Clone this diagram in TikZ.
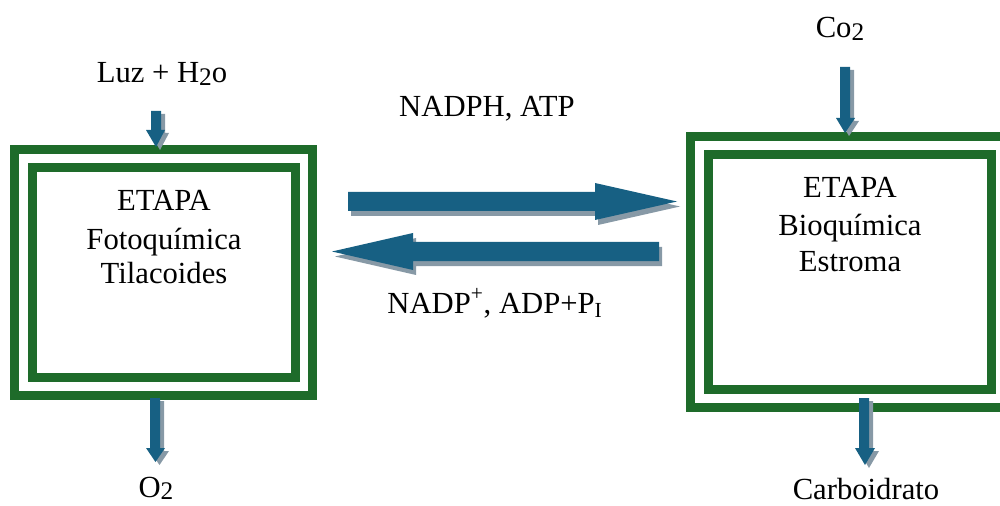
\documentclass[tikz,border=0pt]{standalone}
\usepackage{fontspec}
\setmainfont{Liberation Serif}
\definecolor{boxgreen}{HTML}{1E6B2A}
\definecolor{arrowblue}{HTML}{176083}
\definecolor{shadowgray}{HTML}{8799A6}
\newcommand{\mysub}[1]{\raisebox{-0.2ex}{\fontsize{19}{19}\selectfont #1}}
\tikzset{
  px/.style={x=0.75pt,y=-0.75pt},
  boxline/.style={draw=boxgreen,line width=6.75pt},
  arrowfill/.style={fill=arrowblue},
  shadowfill/.style={fill=shadowgray},
  lbl/.style={font=\fontsize{23}{27}\selectfont,anchor=base,inner sep=0pt}
}
\begin{document}
\begin{tikzpicture}[px]
\useasboundingbox (0,0) rectangle (1000,506);
% boxes
\draw[boxline] (14.5,149.5) rectangle (312.5,395.5);
\draw[boxline] (32.5,167.5) rectangle (295,377.5);
\begin{scope}
\clip (0,0) rectangle (1000,506);
\draw[boxline] (690.5,136.5) rectangle (1009.5,407.5);
\end{scope}
\draw[boxline] (708.5,154.5) rectangle (991.5,389.5);
% texts
\node[lbl] (luz) at (162,83) {Luz + H\mysub{2}o};
\node[lbl] (co2) at (840,38) {Co\mysub{2}};
\node[lbl] (nadph) at (487,117) {NADPH, ATP};
\node[lbl] (nadp) at (495,313) {NADP\textsuperscript{+}, ADP+P\textsubscript{I}};
\node[lbl] (o2) at (156,497) {O\mysub{2}};
\node[lbl] (carb) at (866,499) {Carboidrato};
\node[lbl] (l1) at (164,211) {ETAPA};
\node[lbl] (l2) at (164,249) {Fotoquímica};
\node[lbl] (l3) at (164,283) {Tilacoides};
\node[lbl] (r1) at (850,198) {ETAPA};
\node[lbl] (r2) at (850,236) {Bioquímica};
\node[lbl] (r3) at (850,272) {Estroma};
% big arrows: shadows
\begin{scope}[shift={(3,5)}]
\fill[shadowfill] (348,192) -- (595,192) -- (595,183) -- (677,201.5) -- (595,220) -- (595,211) -- (348,211) -- cycle;
\fill[shadowfill] (659,242) -- (413,242) -- (413,233) -- (332,251.5) -- (413,270) -- (413,261) -- (659,261) -- cycle;
\end{scope}
\fill[arrowfill] (348,192) -- (595,192) -- (595,183) -- (677,201.5) -- (595,220) -- (595,211) -- (348,211) -- cycle;
\fill[arrowfill] (659,242) -- (413,242) -- (413,233) -- (332,251.5) -- (413,270) -- (413,261) -- (659,261) -- cycle;
% small arrows
\begin{scope}[shift={(4,3)}]
\fill[shadowfill] (151,111) -- (161,111) -- (161,130) -- (165,130) -- (156,147) -- (146,130) -- (151,130) -- cycle;
\fill[shadowfill] (840,67) -- (850,67) -- (850,118) -- (855,118) -- (845,133) -- (836,118) -- (840,118) -- cycle;
\fill[shadowfill] (150,398) -- (160,398) -- (160,448) -- (165,448) -- (155.5,462) -- (146,448) -- (150,448) -- cycle;
\fill[shadowfill] (859,398) -- (869,398) -- (869,448) -- (875,448) -- (865,465) -- (855,448) -- (859,448) -- cycle;
\end{scope}
\fill[arrowfill] (151,111) -- (161,111) -- (161,130) -- (165,130) -- (156,147) -- (146,130) -- (151,130) -- cycle;
\fill[arrowfill] (840,67) -- (850,67) -- (850,118) -- (855,118) -- (845,133) -- (836,118) -- (840,118) -- cycle;
\fill[arrowfill] (150,398) -- (160,398) -- (160,448) -- (165,448) -- (155.5,462) -- (146,448) -- (150,448) -- cycle;
\fill[arrowfill] (859,398) -- (869,398) -- (869,448) -- (875,448) -- (865,465) -- (855,448) -- (859,448) -- cycle;
\end{tikzpicture}
\end{document}
